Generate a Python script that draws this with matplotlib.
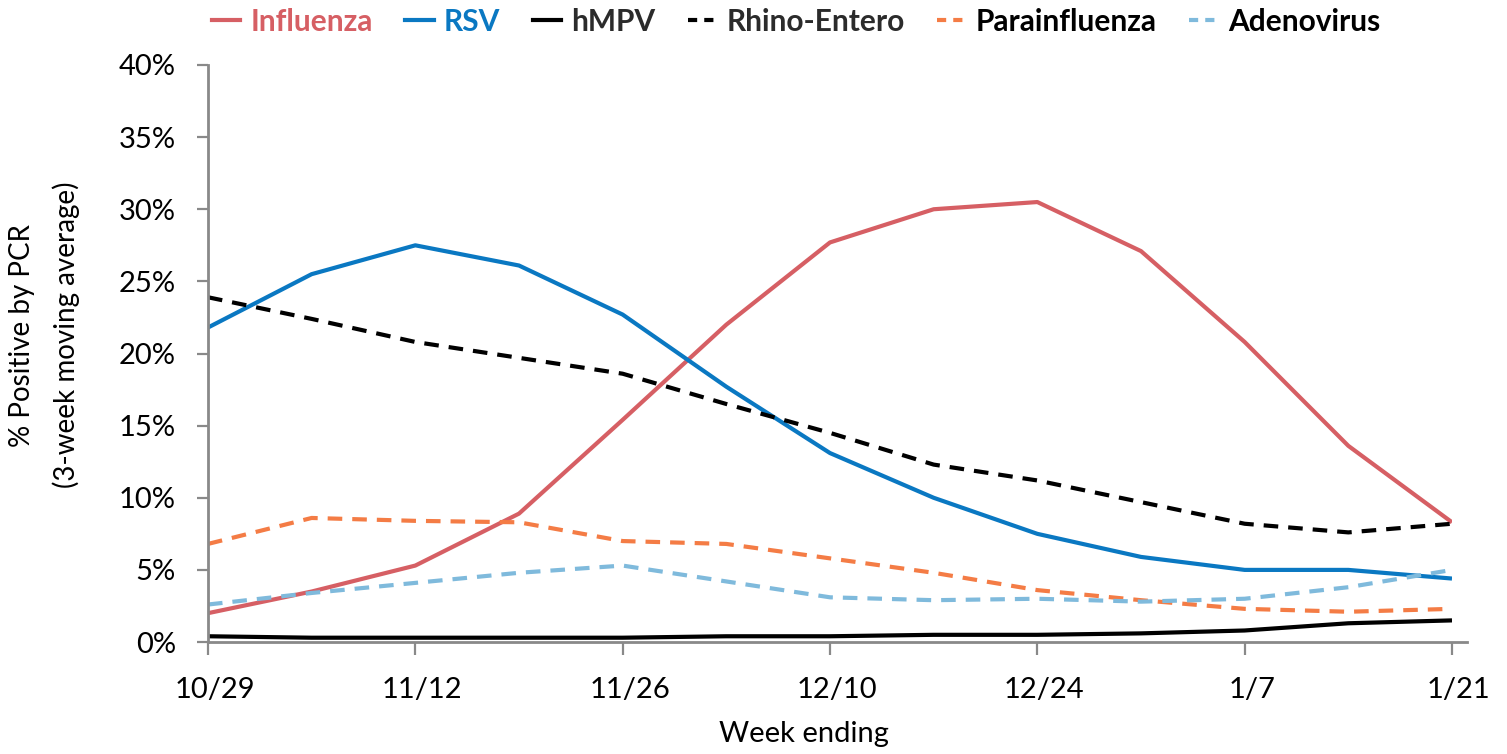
import matplotlib.pyplot as plt
from matplotlib.lines import Line2D
from matplotlib.transforms import ScaledTranslation
import numpy as np

plt.rcParams['font.family'] = ['Lato', 'DejaVu Sans']

weeks = ['10/29', '11/5', '11/12', '11/19', '11/26', '12/3', '12/10',
         '12/17', '12/24', '12/31', '1/7', '1/14', '1/21']

influenza = [2.0, 3.5, 5.3, 8.9, 15.4, 22.0, 27.7, 30.0, 30.5, 27.1, 20.8, 13.6, 8.3]
rsv = [21.8, 25.5, 27.5, 26.1, 22.7, 17.7, 13.1, 10.0, 7.5, 5.9, 5.0, 5.0, 4.4]
hmpv = [0.4, 0.3, 0.3, 0.3, 0.3, 0.4, 0.4, 0.5, 0.5, 0.6, 0.8, 1.3, 1.5]
rhino = [23.9, 22.4, 20.8, 19.7, 18.6, 16.5, 14.5, 12.3, 11.2, 9.7, 8.2, 7.6, 8.2]
parainf = [6.8, 8.6, 8.4, 8.3, 7.0, 6.8, 5.8, 4.8, 3.6, 2.9, 2.3, 2.1, 2.3]
adeno = [2.6, 3.4, 4.1, 4.8, 5.3, 4.2, 3.1, 2.9, 3.0, 2.8, 3.0, 3.8, 5.0]

# name, values, line colour, style, legend text colour
series = [
    ('Influenza', influenza, '#d65f64', '-', '#d65f64'),
    ('RSV', rsv, '#0a78c2', '-', '#0a78c2'),
    ('hMPV', hmpv, '#000000', '-', '#2b2b2b'),
    ('Rhino-Entero', rhino, '#000000', '--', '#2b2b2b'),
    ('Parainfluenza', parainf, '#f47c45', '--', '#000000'),
    ('Adenovirus', adeno, '#7fbadc', '--', '#000000'),
]

fig = plt.figure(figsize=(15.07, 7.54), dpi=100)
ax = fig.add_axes([0.138, 0.1485, 0.8255, 0.7653])

x = np.arange(len(weeks))
handles = []
for name, vals, col, ls, tcol in series:
    ln, = ax.plot(x, vals, color=col, linewidth=3, label=name,
                  solid_capstyle='butt')
    h = Line2D([], [], color=col, linewidth=3, label=name)
    if ls == '--':
        ln.set_dashes((3.5, 2.4))
        h.set_dashes((2.2, 1.7))
    handles.append(h)

ax.set_xlim(0, 12)
ax.set_ylim(0, 40)
ax.set_yticks(np.arange(0, 41, 5))
ax.set_yticklabels([f'{v}%' for v in range(0, 41, 5)])
ax.set_xticks(x[::2])
ax.set_xticklabels(weeks[::2])
ax.tick_params(axis='both', labelsize=21, colors='#898989', labelcolor='black',
               width=1.6)
ax.tick_params(axis='y', length=8, pad=15)
ax.tick_params(axis='x', length=9.4, pad=16)
shift = ScaledTranslation(5 / 72, 0, fig.dpi_scale_trans)
for lab in ax.get_xticklabels():
    lab.set_transform(lab.get_transform() + shift)

for s in ['top', 'right']:
    ax.spines[s].set_visible(False)
for s in ['left', 'bottom']:
    ax.spines[s].set_color('#898989')
    ax.spines[s].set_linewidth(2)
ax.spines['bottom'].set_bounds(0, 12.14)

ax.set_ylabel('% Positive by PCR\n(3-week moving average)', fontsize=20,
              linespacing=1.75, va='center', ha='center')
ax.yaxis.set_label_coords(-0.1314, 0.532)
ax.set_xlabel('Week ending', fontsize=21, va='center')
ax.xaxis.set_label_coords(0.479, -0.1594)

leg = fig.legend(handles=handles, loc='upper left',
                 bbox_to_anchor=(212 / 1507, 0.99),
                 ncol=6, frameon=False, borderpad=0, borderaxespad=0,
                 handlelength=0.95, handletextpad=0.33, columnspacing=1.1,
                 prop={'size': 21.5, 'weight': 'bold'})
for txt, (_, _, _, _, tcol) in zip(leg.get_texts(), series):
    txt.set_color(tcol)

fig.savefig('out.png', dpi=100)
